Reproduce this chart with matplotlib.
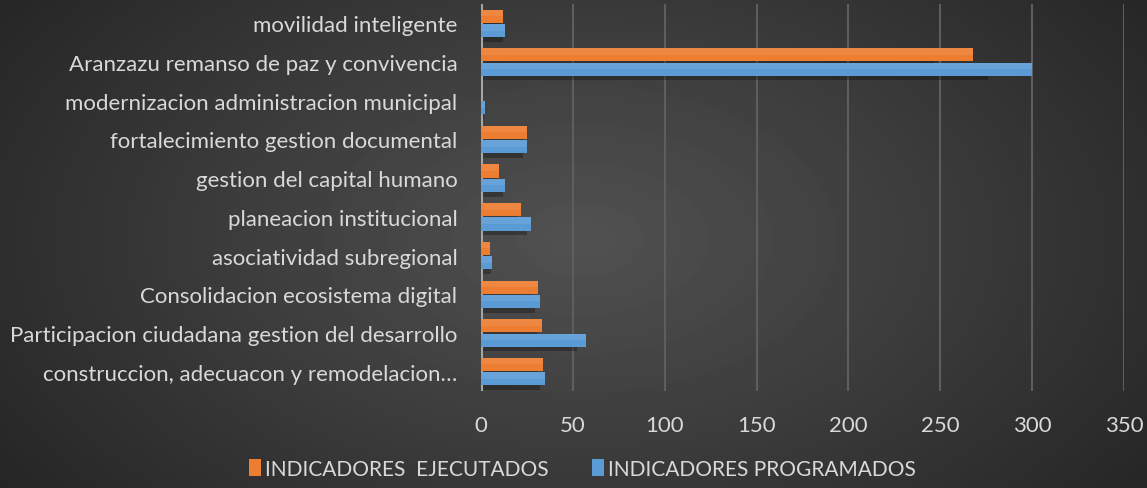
import numpy as np
import matplotlib
matplotlib.use('Agg')
import matplotlib.pyplot as plt

# categories listed bottom -> top (as drawn by barh)
categories = [
    'construccion, adecuacon y remodelacion…',
    'Participacion ciudadana gestion del desarrollo',
    'Consolidacion ecosistema digital',
    'asociatividad subregional',
    'planeacion institucional',
    'gestion del capital humano',
    'fortalecimiento gestion documental',
    'modernizacion administracion municipal',
    'Aranzazu remanso de paz y convivencia',
    'movilidad inteligente',
]
ejecutados = [34, 33, 31, 5, 22, 10, 25, 0, 268, 12]
programados = [35, 57, 32, 6, 27, 13, 25, 2, 300, 13]

x_ticks = [0, 50, 100, 150, 200, 250, 300, 350]

orange = '#ED7D31'
blue = '#5B9BD5'
text_color = '#D9D9D9'

plt.rcParams['font.family'] = ['Lato', 'DejaVu Sans']

fig = plt.figure(figsize=(11.47, 4.89), dpi=100)

# radial gradient background
bg = fig.add_axes([0, 0, 1, 1], zorder=-10)
yy, xx = np.mgrid[0:489, 0:1147]
r = np.sqrt(((xx - 580) / 700.0) ** 2 + ((yy - 240) / 420.0) ** 2)
shade = np.clip(0.32 - 0.17 * r, 0.14, 0.32)
bg.imshow(shade, cmap='gray', vmin=0, vmax=1, aspect='auto', interpolation='bilinear')
bg.axis('off')

ax = fig.add_axes([481 / 1147, 1 - 392 / 489, (1124 - 481) / 1147, 387 / 489])
ax.patch.set_alpha(0)

y = np.arange(len(categories))
h = 0.34
off = 0.185

# soft shadows under each bar
ax.barh(y + off - 0.1, [v * 0.92 for v in ejecutados], height=h, color='black', alpha=0.2, zorder=2)
ax.barh(y - off - 0.12, [v * 0.92 for v in programados], height=h, color='black', alpha=0.28, zorder=2)

ax.barh(y + off, ejecutados, height=h, color=orange, zorder=5, label='INDICADORES  EJECUTADOS')
ax.barh(y - off, programados, height=h, color=blue, zorder=5, label='INDICADORES PROGRAMADOS')
# light sheen on the upper half of the bars
ax.barh(y + off + h / 4, ejecutados, height=h / 2, color='white', alpha=0.08, zorder=6)
ax.barh(y - off + h / 4, programados, height=h / 2, color='white', alpha=0.08, zorder=6)

ax.set_xlim(0, 350)
ax.set_ylim(-0.5, len(categories) - 0.5)
ax.set_xticks(x_ticks)
ax.set_yticks(y)
ax.set_yticklabels(categories)
ax.tick_params(axis='both', length=0, colors=text_color, labelsize=16)
ax.tick_params(axis='y', pad=17)
ax.tick_params(axis='x', pad=17)
for lbl in ax.get_xticklabels() + ax.get_yticklabels():
    lbl.set_color(text_color)

for s in ax.spines.values():
    s.set_visible(False)
ax.grid(axis='x', color='#5E5E5E', linewidth=1.5, zorder=0)
ax.axvline(0, color='#A6A6A6', linewidth=2.2, zorder=4)

handles, labels = ax.get_legend_handles_labels()
leg = fig.legend(handles, labels, loc='center', bbox_to_anchor=(0.508, 1 - 470 / 489),
                 ncol=2, frameon=False, fontsize=15, handlelength=0.55, handleheight=0.9,
                 handletextpad=0.2, columnspacing=2.1)
for t in leg.get_texts():
    t.set_color(text_color)

fig.savefig('out.png', dpi=100)
plt.close(fig)
